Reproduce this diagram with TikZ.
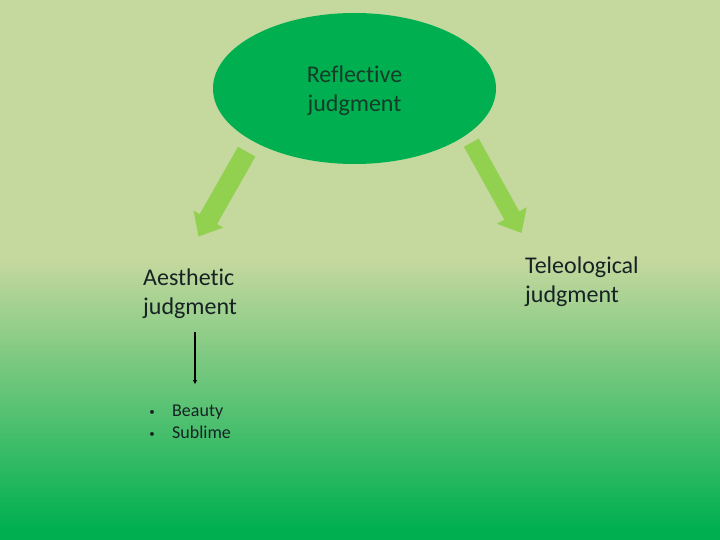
\documentclass[tikz,border=0pt]{standalone}
\usepackage{fontspec}
\setmainfont{Carlito}[Ligatures={NoCommon,NoRare,NoContextual}]
\usetikzlibrary{calc,shapes.geometric,arrows.meta}
\definecolor{bgtop}{RGB}{197,216,158}
\definecolor{bgbot}{RGB}{0,176,80}
\definecolor{ellgreen}{RGB}{0,176,80}
\definecolor{blkgreen}{RGB}{146,208,80}
\definecolor{txtdark}{RGB}{22,34,36}
\definecolor{txtell}{RGB}{20,60,40}
\newcommand\blkarrow[3]{% start, tip, half width
  \path ($(#2)!20pt!(#1)$) coordinate (#1-b);
  \fill[blkgreen]
    ($(#1)!#3!90:(#2)$) -- ($(#1-b)!#3!90:(#2)$) -- ($(#1-b)!17pt!90:(#2)$)
    -- (#2) -- ($(#1-b)!17pt!-90:(#2)$) -- ($(#1-b)!#3!-90:(#2)$)
    -- ($(#1)!#3!-90:(#2)$) -- cycle;}
\tikzset{
  bigtext/.style={font=\fontsize{24}{29}\selectfont, text=txtdark, align=left, inner sep=0pt},
  smalltext/.style={font=\fontsize{18}{22}\selectfont, text=txtdark, inner sep=0pt},
  dottext/.style={font=\fontsize{11}{22}\selectfont, text=txtdark, inner sep=0pt},
}
\begin{document}
\begin{tikzpicture}[x=1pt,y=-1pt]
\useasboundingbox (0,0) rectangle (720,540);
\fill[bgtop] (0,0) rectangle (720,261);
\shade[top color=bgtop, bottom color=bgbot] (0,260) rectangle (720,528);
\fill[bgbot] (0,527) rectangle (720,540);
% ellipse
\node[ellipse, fill=ellgreen, minimum width=283pt, minimum height=151pt, inner sep=0pt] (refl) at (354.5,88.5) {};
\node[font=\fontsize{24}{29}\selectfont, text=txtell, align=center, inner sep=0pt, anchor=base] (refltxt) at (354.5,112) {Reflective\\judgment};
% block arrows
\coordinate (la) at (246.7,151.7);
\coordinate (lat) at (198.5,236.5);
\coordinate (ra) at (471.3,142.7);
\coordinate (rat) at (521.5,233);
\blkarrow{la}{lat}{10pt}
\blkarrow{ra}{rat}{8.5pt}
% texts
\node[bigtext, anchor=base west] (aes) at (143,314) {Aesthetic\\judgment};
\node[bigtext, anchor=base west] (tel) at (525,302) {Teleological\\judgment};
% black arrow
\coordinate (bs) at (195,332);
\coordinate (be) at (195,384);
\draw[line width=1.4pt, -{Triangle[length=4pt,width=4pt]}] (bs) -- (be);
% bullets
\node[smalltext, anchor=base west] (b1) at (172,416) {Beauty};
\node[smalltext, anchor=base west] (b2) at (172,438) {Sublime};
\node[dottext, anchor=base] (d1) at (152,415) {•};
\node[dottext, anchor=base] (d2) at (152,437) {•};
\end{tikzpicture}
\end{document}
